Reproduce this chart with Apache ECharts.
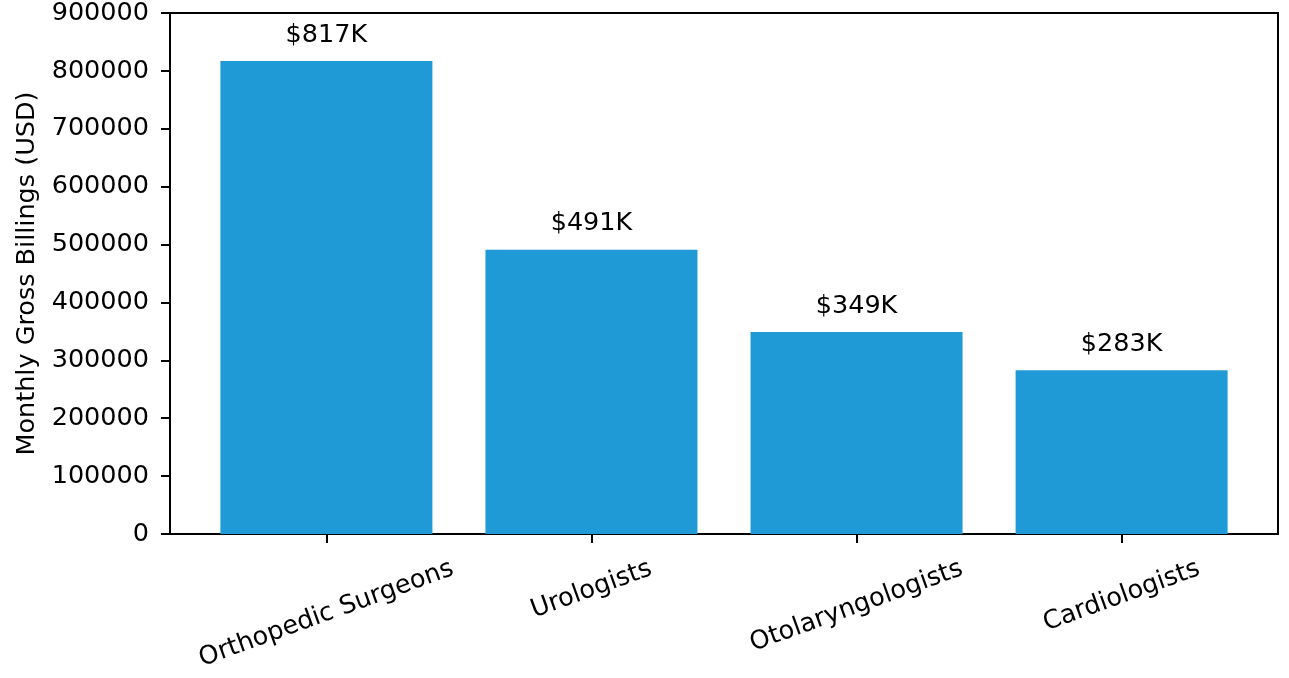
<!DOCTYPE html>
<html>
<head>
<meta charset="utf-8">
<script src="https://cdn.jsdelivr.net/npm/echarts@6/dist/echarts.min.js"></script>
<style>
html,body{margin:0;padding:0;background:#fff;}
#chart{width:1289px;height:678px;}
</style>
</head>
<body>
<div id="chart"></div>
<script>
const categories = ['Orthopedic Surgeons', 'Urologists', 'Otolaryngologists', 'Cardiologists'];
const billings = [817000, 491000, 349000, 283000];
const barLabels = ['$817K', '$491K', '$349K', '$283K'];
const yMin = 0, yMax = 900000, yStep = 100000;

const FONT = 'DejaVu Sans';
const FS = 25.5;
const BAR_COLOR = '#1f9ad6';

const measureCtx = document.createElement('canvas').getContext('2d');
measureCtx.font = FS + 'px "' + FONT + '"';
function textWidth(s) { return measureCtx.measureText(s).width; }

const chart = echarts.init(document.getElementById('chart'), null, {renderer: 'canvas'});
const ANG = 20 * Math.PI / 180;

chart.setOption({
  animation: false,
  backgroundColor: '#fff',
  textStyle: {fontFamily: FONT},
  grid: {left: 170, right: 11, top: 13, bottom: 144, show: true, borderColor: '#000', borderWidth: 2, backgroundColor: 'transparent'},
  xAxis: {
    type: 'value', min: -0.59, max: 3.59,
    splitLine: {show: false},
    axisLine: {show: true, onZero: false, lineStyle: {color: '#000', width: 2}},
    axisTick: {show: true, inside: false, customValues: [0, 1, 2, 3], length: 9, lineStyle: {color: '#000', width: 2}},
    axisLabel: {show: false}
  },
  yAxis: {
    type: 'value', min: yMin, max: yMax, interval: yStep,
    name: 'Monthly Gross Billings (USD)', nameLocation: 'middle', nameGap: 123,
    nameTextStyle: {fontSize: FS, color: '#000', fontFamily: FONT},
    splitLine: {show: false},
    axisLine: {show: true, onZero: false, lineStyle: {color: '#000', width: 2}},
    axisTick: {show: true, inside: false, length: 9, lineStyle: {color: '#000', width: 2}},
    axisLabel: {fontSize: FS, color: '#000', margin: 21, fontFamily: FONT, formatter: v => String(v)}
  },
  series: [
    {
      type: 'bar',
      data: billings.map((v, i) => [i, v]),
      barWidth: 212,
      itemStyle: {color: BAR_COLOR},
      label: {
        show: true, position: 'top', distance: 13,
        fontSize: FS, color: '#000', fontFamily: FONT,
        formatter: p => barLabels[p.dataIndex]
      }
    },
    {
      type: 'custom',
      silent: true,
      clip: false,
      data: categories.map((c, i) => [i, 0]),
      renderItem: function (params, api) {
        const i = api.value(0);
        const p = api.coord([i, 0]);
        const name = categories[params.dataIndex];
        const w = textWidth(name);
        const h = FS * 1.164;
        const H = w * Math.sin(ANG) + h * Math.cos(ANG);
        return {
          type: 'text',
          x: p[0], y: p[1] + 20 + H / 2,
          rotation: ANG,
          style: {text: name, fontSize: FS, fontFamily: FONT, fill: '#000', align: 'center', verticalAlign: 'middle'}
        };
      }
    }
  ]
});
</script>
</body>
</html>
